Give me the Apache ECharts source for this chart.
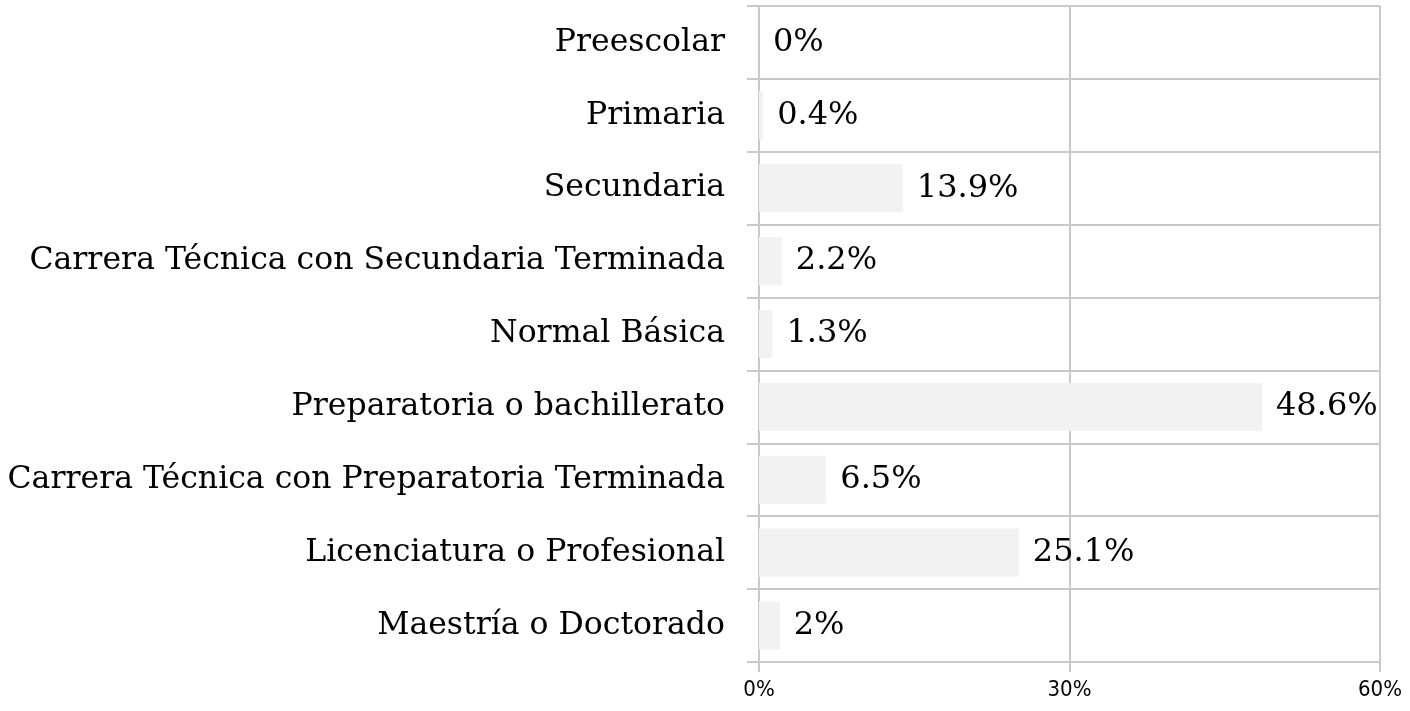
<!DOCTYPE html>
<html>
<head>
<meta charset="utf-8">
<script src="https://cdn.jsdelivr.net/npm/echarts@6/dist/echarts.min.js"></script>
<style>
  html, body { margin: 0; padding: 0; background: #fff; }
  #chart { width: 1410px; height: 711px; }
</style>
</head>
<body>
<div id="chart"></div>
<script>
const categories = [
  'Preescolar',
  'Primaria',
  'Secundaria',
  'Carrera Técnica con Secundaria Terminada',
  'Normal Básica',
  'Preparatoria o bachillerato',
  'Carrera Técnica con Preparatoria Terminada',
  'Licenciatura o Profesional',
  'Maestría o Doctorado'
]
const values = [0, 0.4, 13.9, 2.2, 1.3, 48.6, 6.5, 25.1, 2]
const xTicks = [0, 30, 60]

const gridColor = '#c9c9c9'
const textFont = 'DejaVu Serif'
const chart = echarts.init(document.getElementById('chart'))
chart.setOption({
  animation: false,
  grid: { left: 759, right: 30, top: 6, bottom: 49 },
  xAxis: {
    type: 'value',
    min: xTicks[0],
    max: xTicks[xTicks.length - 1],
    interval: 30,
    axisLine: { show: true, lineStyle: { color: gridColor, width: 2 } },
    axisTick: { show: true, length: 10, lineStyle: { color: gridColor, width: 2 } },
    axisLabel: {
      margin: 17,
      color: '#000',
      fontSize: 22,
      fontFamily: 'DejaVu Sans Condensed',
      formatter: v => v + '%'
    },
    splitLine: { show: true, lineStyle: { color: gridColor, width: 2 } }
  },
  yAxis: {
    type: 'category',
    inverse: true,
    data: categories,
    axisLine: { show: true, lineStyle: { color: gridColor, width: 2 } },
    axisTick: { show: true, length: 12, lineStyle: { color: gridColor, width: 2 } },
    axisLabel: {
      margin: 34,
      color: '#000',
      fontSize: 31.5,
      fontFamily: textFont
    },
    splitLine: { show: true, lineStyle: { color: gridColor, width: 2 } }
  },
  series: [{
    type: 'bar',
    data: values,
    barCategoryGap: '34%',
    itemStyle: { color: '#f2f2f2' },
    label: {
      show: true,
      position: 'right',
      distance: 14,
      color: '#000',
      fontSize: 32,
      fontFamily: textFont,
      formatter: p => p.value + '%'
    }
  }]
})
</script>
</body>
</html>
